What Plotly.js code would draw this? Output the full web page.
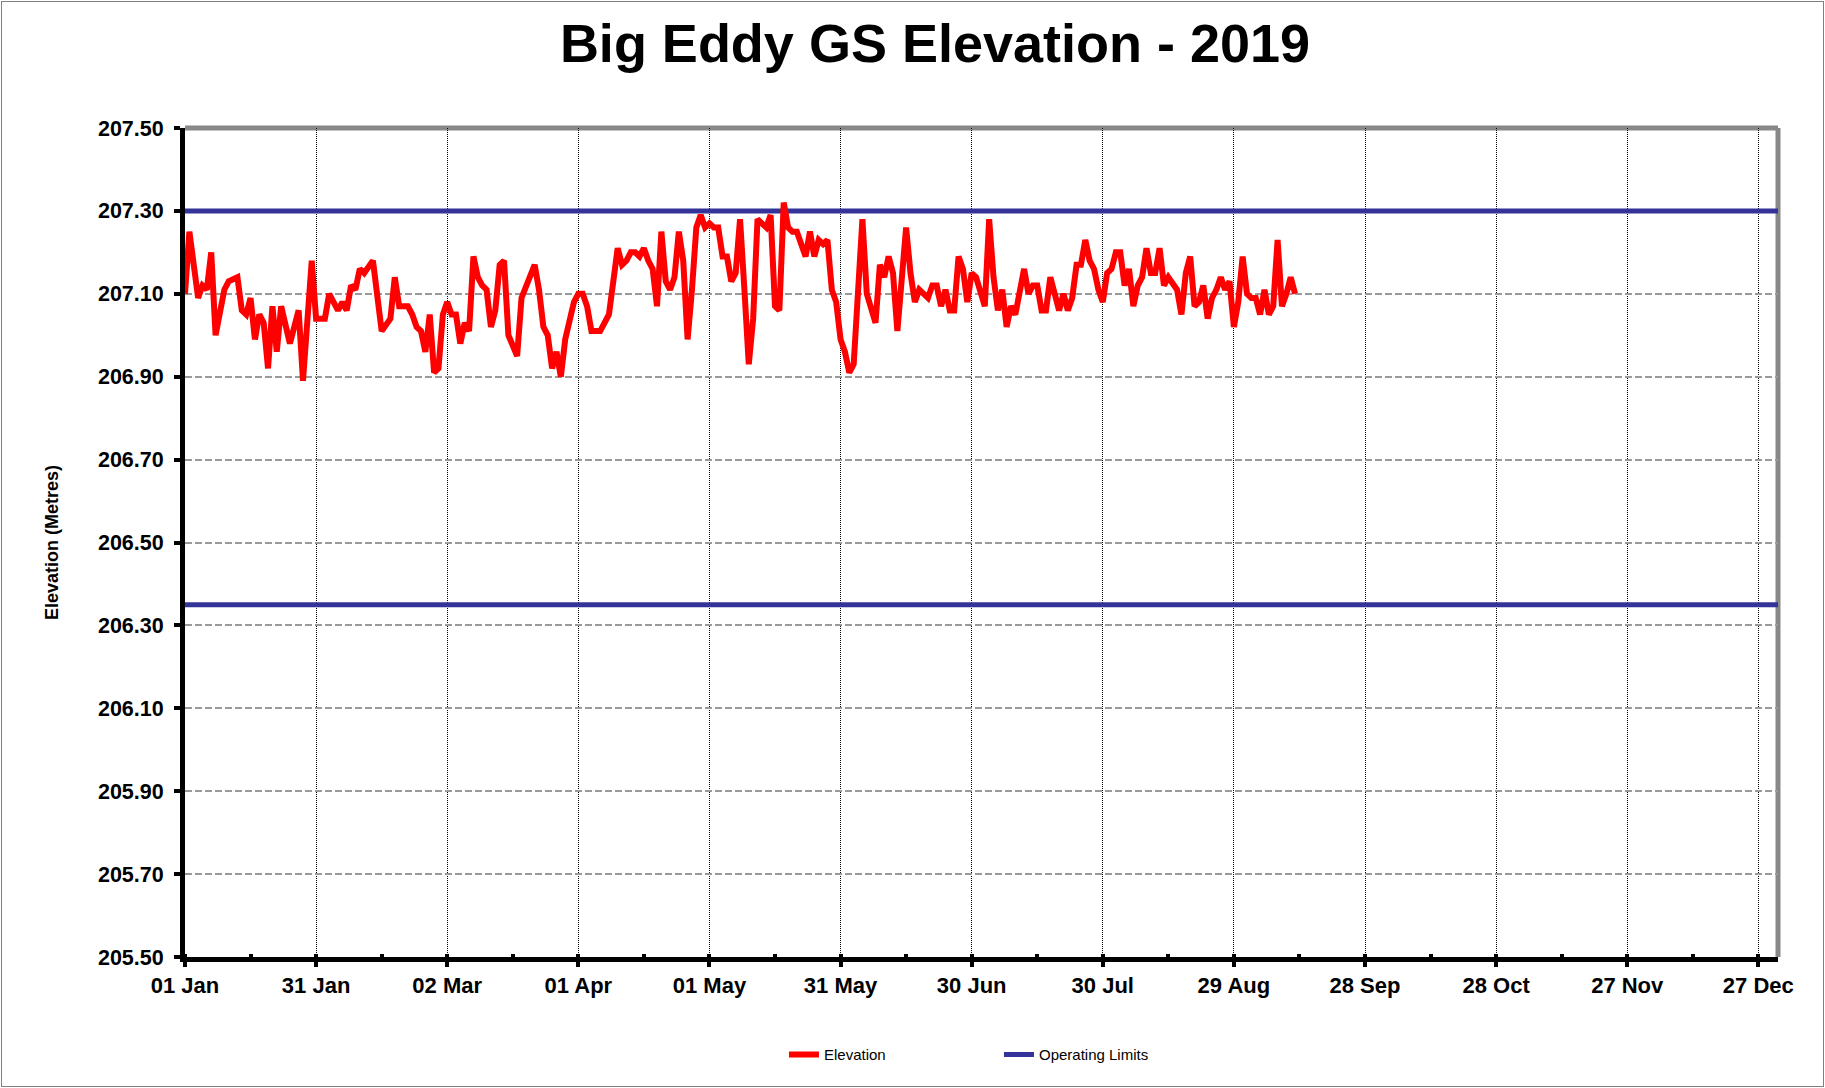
<!DOCTYPE html>
<html>
<head>
<meta charset="utf-8">
<script src="https://cdn.plot.ly/plotly-3.0.1.min.js"></script>
<style>
html,body{margin:0;padding:0;background:#fff;}
#chart{width:1825px;height:1088px;}
#frame{position:absolute;left:1px;top:1px;width:1821px;height:1084px;border:1px solid #808080;pointer-events:none;}
</style>
</head>
<body>
<div id="chart"></div>
<div id="frame"></div>
<script>
// Daily reservoir elevation readings (dates and metres)
const dates = [
'2019-01-01','2019-01-02','2019-01-04','2019-01-05','2019-01-06','2019-01-07','2019-01-08','2019-01-10','2019-01-11','2019-01-13',
'2019-01-14','2019-01-15','2019-01-16','2019-01-17','2019-01-18','2019-01-19','2019-01-20','2019-01-21','2019-01-22','2019-01-23',
'2019-01-25','2019-01-27','2019-01-28','2019-01-30','2019-01-31','2019-02-02','2019-02-03','2019-02-04','2019-02-05','2019-02-06',
'2019-02-07','2019-02-08','2019-02-09','2019-02-10','2019-02-11','2019-02-13','2019-02-15','2019-02-17','2019-02-18','2019-02-19',
'2019-02-21','2019-02-22','2019-02-23','2019-02-24','2019-02-25','2019-02-26','2019-02-27','2019-02-28','2019-03-01','2019-03-02',
'2019-03-03','2019-03-04','2019-03-05','2019-03-06','2019-03-07','2019-03-08','2019-03-09','2019-03-10','2019-03-11','2019-03-12',
'2019-03-13','2019-03-14','2019-03-15','2019-03-16','2019-03-17','2019-03-18','2019-03-19','2019-03-20','2019-03-21','2019-03-22',
'2019-03-23','2019-03-24','2019-03-25','2019-03-26','2019-03-27','2019-03-28','2019-03-29','2019-03-31','2019-04-01','2019-04-02',
'2019-04-03','2019-04-04','2019-04-06','2019-04-07','2019-04-08','2019-04-09','2019-04-10','2019-04-11','2019-04-12','2019-04-13',
'2019-04-14','2019-04-15','2019-04-16','2019-04-17','2019-04-18','2019-04-19','2019-04-20','2019-04-21','2019-04-22','2019-04-23',
'2019-04-24','2019-04-25','2019-04-26','2019-04-27','2019-04-28','2019-04-29','2019-04-30','2019-05-01','2019-05-02','2019-05-03',
'2019-05-04','2019-05-05','2019-05-06','2019-05-07','2019-05-08','2019-05-09','2019-05-10','2019-05-11','2019-05-12','2019-05-13',
'2019-05-14','2019-05-15','2019-05-16','2019-05-17','2019-05-18','2019-05-19','2019-05-20','2019-05-21','2019-05-22','2019-05-23',
'2019-05-24','2019-05-25','2019-05-26','2019-05-27','2019-05-28','2019-05-29','2019-05-30','2019-05-31','2019-06-01','2019-06-02',
'2019-06-03','2019-06-04','2019-06-05','2019-06-06','2019-06-07','2019-06-08','2019-06-09','2019-06-10','2019-06-11','2019-06-12',
'2019-06-13','2019-06-15','2019-06-16','2019-06-17','2019-06-18','2019-06-19','2019-06-20','2019-06-21','2019-06-22','2019-06-23',
'2019-06-24','2019-06-25','2019-06-26','2019-06-27','2019-06-28','2019-06-29','2019-06-30','2019-07-01','2019-07-02','2019-07-03',
'2019-07-04','2019-07-05','2019-07-06','2019-07-07','2019-07-08','2019-07-09','2019-07-10','2019-07-11','2019-07-12','2019-07-13',
'2019-07-14','2019-07-15','2019-07-16','2019-07-17','2019-07-18','2019-07-19','2019-07-20','2019-07-21','2019-07-22','2019-07-23',
'2019-07-24','2019-07-25','2019-07-26','2019-07-27','2019-07-28','2019-07-29','2019-07-30','2019-07-31','2019-08-01','2019-08-02',
'2019-08-03','2019-08-04','2019-08-05','2019-08-06','2019-08-07','2019-08-08','2019-08-09','2019-08-10','2019-08-11','2019-08-12',
'2019-08-13','2019-08-14','2019-08-16','2019-08-17','2019-08-18','2019-08-19','2019-08-20','2019-08-21','2019-08-22','2019-08-23',
'2019-08-24','2019-08-25','2019-08-26','2019-08-27','2019-08-28','2019-08-29','2019-08-30','2019-08-31','2019-09-01','2019-09-02',
'2019-09-03','2019-09-04','2019-09-05','2019-09-06','2019-09-07','2019-09-08','2019-09-09','2019-09-10','2019-09-11','2019-09-12'
];
const elevation = [
207.10,207.25,207.09,207.12,207.11,207.20,207.00,207.11,207.13,207.14,
207.06,207.05,207.09,206.99,207.05,207.03,206.92,207.07,206.96,207.07,
206.98,207.06,206.89,207.18,207.04,207.04,207.10,207.08,207.06,207.08,
207.06,207.12,207.11,207.16,207.15,207.18,207.01,207.04,207.14,207.07,
207.07,207.05,207.02,207.01,206.96,207.05,206.91,206.92,207.05,207.08,
207.05,207.05,206.98,207.03,207.01,207.19,207.14,207.12,207.11,207.02,
207.06,207.17,207.18,207.00,206.97,206.95,207.09,207.12,207.14,207.17,
207.11,207.02,207.00,206.92,206.96,206.90,206.99,207.08,207.10,207.10,
207.07,207.01,207.01,207.03,207.05,207.13,207.21,207.17,207.18,207.20,
207.20,207.19,207.21,207.18,207.16,207.07,207.25,207.13,207.11,207.14,
207.25,207.18,206.99,207.11,207.26,207.29,207.26,207.27,207.26,207.26,
207.19,207.19,207.13,207.15,207.28,207.11,206.93,207.04,207.28,207.27,
207.26,207.29,207.07,207.06,207.32,207.26,207.25,207.25,207.22,207.19,
207.25,207.19,207.23,207.22,207.23,207.11,207.08,206.99,206.96,206.91,
206.93,207.11,207.28,207.10,207.07,207.03,207.17,207.14,207.19,207.15,
207.01,207.26,207.15,207.08,207.11,207.10,207.09,207.12,207.12,207.07,
207.11,207.06,207.06,207.19,207.16,207.08,207.15,207.14,207.10,207.07,
207.28,207.14,207.06,207.11,207.02,207.07,207.05,207.11,207.16,207.10,
207.12,207.12,207.06,207.06,207.14,207.10,207.06,207.10,207.06,207.09,
207.17,207.17,207.23,207.18,207.16,207.11,207.08,207.15,207.16,207.20,
207.20,207.12,207.16,207.07,207.12,207.14,207.21,207.15,207.15,207.21,
207.12,207.14,207.11,207.05,207.15,207.19,207.07,207.08,207.12,207.04,
207.09,207.11,207.14,207.11,207.13,207.02,207.08,207.19,207.10,207.09,
207.09,207.05,207.11,207.05,207.07,207.23,207.07,207.10,207.14,207.10
];
// Operating limits (metres) spanning the year
const limitStart = '2019-01-01';
const limitEnd = '2019-12-31 12:00';
const upperLimit = 207.30;
const lowerLimit = 206.35;
// Axis ticks
const yTicks = [205.50,205.70,205.90,206.10,206.30,206.50,206.70,206.90,207.10,207.30,207.50];

const DAY = 86400000;
const FONT = 'Liberation Sans, Arial, Helvetica, sans-serif';

const limitsTrace = {
  type: 'scatter', mode: 'lines', name: 'Operating Limits',
  x: [limitStart, limitEnd, null, limitStart, limitEnd],
  y: [upperLimit, upperLimit, null, lowerLimit, lowerLimit],
  line: {color: '#333399', width: 5},
  connectgaps: false, legendrank: 2, hoverinfo: 'y'
};
const elevTrace = {
  type: 'scatter', mode: 'lines', name: 'Elevation',
  x: dates, y: elevation,
  line: {color: '#FF0000', width: 6},
  legendrank: 1
};

const layout = {
  width: 1825, height: 1088,
  margin: {l: 185, r: 47, t: 128, b: 131},
  paper_bgcolor: '#ffffff', plot_bgcolor: '#ffffff',
  font: {family: FONT, color: '#000'},
  title: {
    text: 'Big Eddy GS Elevation - 2019',
    font: {size: 54, weight: 'bold', family: FONT, color: '#000'},
    xref: 'container', x: 935 / 1825, xanchor: 'center',
    yref: 'container', y: 1 - 43 / 1088, yanchor: 'middle'
  },
  xaxis: {
    type: 'date', range: [limitStart, limitEnd],
    tick0: '2019-01-01', dtick: 30 * DAY, tickformat: '%d %b',
    ticks: 'outside', ticklen: 5, tickwidth: 4, tickcolor: '#000',
    showline: true, linecolor: '#000', linewidth: 5,
    showgrid: true, gridcolor: '#000', gridwidth: 1, griddash: '1px,1px',
    zeroline: false,
    tickfont: {size: 22, weight: 'bold', family: FONT, color: '#000'},
    minor: {tick0: '2019-01-01', dtick: 15 * DAY, ticks: 'inside', ticklen: 3, tickwidth: 4, tickcolor: '#000', showgrid: false},
    fixedrange: true
  },
  yaxis: {
    range: [205.5, 207.5], tickmode: 'array', tickvals: yTicks,
    ticktext: yTicks.map(v => v.toFixed(2)),
    ticks: 'outside', ticklen: 6, tickwidth: 4, tickcolor: '#000',
    ticklabelstandoff: 6,
    showline: true, linecolor: '#000', linewidth: 5,
    showgrid: true, gridcolor: '#9a9a9a', gridwidth: 2, griddash: '7px,3px',
    zeroline: false,
    tickfont: {size: 21.5, weight: 'bold', family: FONT, color: '#000'},
    title: {text: 'Elevation (Metres)', font: {size: 18, weight: 'bold', family: FONT, color: '#000'}, standoff: 36},
    fixedrange: true
  },
  shapes: [
    {type: 'line', xref: 'paper', yref: 'paper', x0: 0, x1: 1, y0: 1, y1: 1, line: {color: '#888888', width: 5}, layer: 'below'},
    {type: 'line', xref: 'paper', yref: 'paper', x0: 1, x1: 1, y0: 0, y1: 1, line: {color: '#888888', width: 5}, layer: 'below'}
  ],
  showlegend: true,
  legend: {
    orientation: 'h', x: 0.376, xanchor: 'left', y: -0.118, yanchor: 'middle',
    font: {size: 15, family: FONT, color: '#000'},
    entrywidth: 170, entrywidthmode: 'pixels',
    bgcolor: 'rgba(0,0,0,0)', borderwidth: 0
  }
};

Plotly.newPlot('chart', [limitsTrace, elevTrace], layout, {displayModeBar: false, staticPlot: true});
</script>
</body>
</html>
